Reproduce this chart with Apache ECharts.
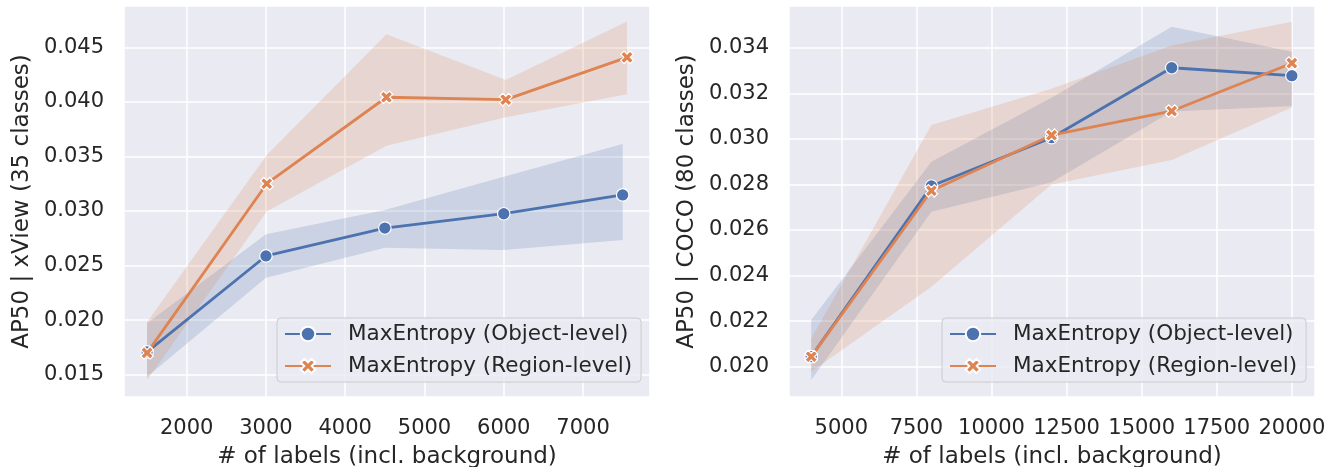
<!DOCTYPE html>
<html>
<head>
<meta charset="utf-8">
<script src="https://cdn.jsdelivr.net/npm/echarts@6/dist/echarts.min.js"></script>
<style>
  html, body { margin: 0; padding: 0; background: #fff; }
  #chart { width: 1336px; height: 467px; }
</style>
</head>
<body>
<div id="chart"></div>
<script>
// xView (left panel)
const xviewObjX = [1500, 3000, 4500, 6000, 7500];
const xviewObjY = [0.0171, 0.02588, 0.02844, 0.02975, 0.03147];
const xviewObjLo = [0.01482, 0.02389, 0.02664, 0.02643, 0.02734];
const xviewObjHi = [0.01971, 0.02787, 0.03009, 0.03314, 0.03614];

const xviewRegX = [1500, 3010, 4520, 6025, 7555];
const xviewRegY = [0.0170, 0.0325, 0.04042, 0.0402, 0.04408];
const xviewRegLo = [0.01452, 0.02995, 0.03598, 0.03858, 0.04069];
const xviewRegHi = [0.01983, 0.03513, 0.04619, 0.0420, 0.04735];

// COCO (right panel)
const cocoObjX = [4000, 8000, 12000, 16000, 20000];
const cocoObjY = [0.02044, 0.02793, 0.03005, 0.03312, 0.03277];
const cocoObjLo = [0.01942, 0.0268, 0.0281, 0.0312, 0.03144];
const cocoObjHi = [0.02205, 0.0290, 0.0318, 0.03492, 0.03382];

const cocoRegX = [4000, 8000, 12000, 16000, 20000];
const cocoRegY = [0.02044, 0.02772, 0.03016, 0.03122, 0.03332];
const cocoRegLo = [0.01978, 0.02351, 0.0280, 0.02907, 0.03138];
const cocoRegHi = [0.02124, 0.03061, 0.0322, 0.0341, 0.03514];

const seriesNames = ['MaxEntropy (Object-level)', 'MaxEntropy (Region-level)'];
const yNames = ['AP50 | xView (35 classes)', 'AP50 | COCO (80 classes)'];
const xName = '# of labels (incl. background)';

const BLUE = '#4C72B0';
const ORANGE = '#DD8452';
const TEXT = '#262626';
const FONT = 'DejaVu Sans';
// filled "X" marker like matplotlib's 'X'
const X_MARK = 'path://M0,2.6 L2.6,0 L5,2.4 L7.4,0 L10,2.6 L7.6,5 L10,7.4 L7.4,10 L5,7.6 L2.6,10 L0,7.4 L2.4,5 Z';

function pairs(xs, ys) {
  return xs.map((x, i) => [x, ys[i]]);
}

function band(idx, xs, lo, hi, color) {
  return {
    type: 'custom',
    xAxisIndex: idx,
    yAxisIndex: idx,
    silent: true,
    z: 1,
    data: xs.map((x, i) => [x, lo[i], hi[i]]),
    encode: { x: 0, y: [1, 2] },
    renderItem: function (params, api) {
      if (params.dataIndex !== 0) return;
      const top = xs.map((x, i) => api.coord([x, hi[i]]));
      const bot = xs.map((x, i) => api.coord([x, lo[i]])).reverse();
      return {
        type: 'polygon',
        shape: { points: top.concat(bot) },
        style: { fill: color, opacity: 0.2 }
      };
    }
  };
}

function line(idx, name, xs, ys, color, symbol, size) {
  return {
    type: 'line',
    name: name,
    xAxisIndex: idx,
    yAxisIndex: idx,
    data: pairs(xs, ys),
    z: 3,
    symbol: symbol,
    symbolSize: size,
    showAllSymbol: true,
    lineStyle: { color: color, width: 2.8 },
    itemStyle: { color: color, borderColor: '#fff', borderWidth: 1.2 },
    emphasis: { disabled: true }
  };
}

function xAxis(idx, min, max, step) {
  return {
    type: 'value',
    gridIndex: idx,
    min: min, max: max,
    minInterval: step, maxInterval: step,
    name: xName,
    nameLocation: 'middle',
    nameGap: 49,
    nameTextStyle: { fontFamily: FONT, fontSize: 23, color: TEXT },
    axisLine: { show: false },
    axisTick: { show: false },
    axisLabel: {
      fontFamily: FONT, fontSize: 21, color: TEXT, margin: 21,
      showMinLabel: false, showMaxLabel: false,
      formatter: v => String(v)
    },
    splitLine: { show: true, lineStyle: { color: '#fff', width: 1.5 } }
  };
}

function yAxis(idx, min, max, step) {
  return {
    type: 'value',
    gridIndex: idx,
    min: min, max: max,
    minInterval: step, maxInterval: step,
    name: yNames[idx],
    nameLocation: 'middle',
    nameGap: 90,
    nameTextStyle: { fontFamily: FONT, fontSize: 23, color: TEXT },
    axisLine: { show: false },
    axisTick: { show: false },
    axisLabel: {
      fontFamily: FONT, fontSize: 21, color: TEXT, margin: 20,
      showMinLabel: false, showMaxLabel: false,
      formatter: v => v.toFixed(3)
    },
    splitLine: { show: true, lineStyle: { color: '#fff', width: 1.5 } }
  };
}

function legend(idx, left) {
  const suffix = idx ? ' ' : '';
  return {
    show: true,
    data: [seriesNames[0] + suffix, seriesNames[1] + suffix],
    orient: 'vertical',
    left: left,
    top: 318,
    itemWidth: 46,
    itemHeight: 18,
    itemGap: 10,
    padding: [5, 9, 5, 7],
    backgroundColor: 'rgba(234,234,242,0.8)',
    borderColor: '#cccccc',
    borderWidth: 1,
    borderRadius: 4,
    selectedMode: false,
    formatter: name => '{g|}' + name.trim(),
    textStyle: {
      fontFamily: FONT, fontSize: 21.5, color: TEXT,
      rich: { g: { width: 12 } }
    }
  };
}

const gridBase = { top: 6, width: 526, height: 391, show: true, backgroundColor: '#EAEAF2', borderWidth: 0, outerBoundsMode: 'none', containLabel: false };

const chart = echarts.init(document.getElementById('chart'), null, { renderer: 'canvas' });
chart.setOption({
  animation: false,
  backgroundColor: '#fff',
  grid: [
    Object.assign({ left: 124 }, gridBase),
    Object.assign({ left: 789 }, gridBase)
  ],
  xAxis: [xAxis(0, 1209, 7845, 1000), xAxis(1, 3260, 20770, 2500)],
  yAxis: [yAxis(0, 0.01296, 0.04878, 0.005), yAxis(1, 0.01867, 0.03583, 0.002)],
  legend: [legend(0, 277), legend(1, 942)],
  series: [
    band(0, xviewObjX, xviewObjLo, xviewObjHi, BLUE),
    band(0, xviewRegX, xviewRegLo, xviewRegHi, ORANGE),
    line(0, seriesNames[0], xviewObjX, xviewObjY, BLUE, 'circle', 12.5),
    line(0, seriesNames[1], xviewRegX, xviewRegY, ORANGE, X_MARK, 12.5),
    band(1, cocoObjX, cocoObjLo, cocoObjHi, BLUE),
    band(1, cocoRegX, cocoRegLo, cocoRegHi, ORANGE),
    line(1, seriesNames[0] + ' ', cocoObjX, cocoObjY, BLUE, 'circle', 12.5),
    line(1, seriesNames[1] + ' ', cocoRegX, cocoRegY, ORANGE, X_MARK, 12.5)
  ]
});
window.addEventListener('resize', function () { chart.resize(); });
</script>
</body>
</html>
